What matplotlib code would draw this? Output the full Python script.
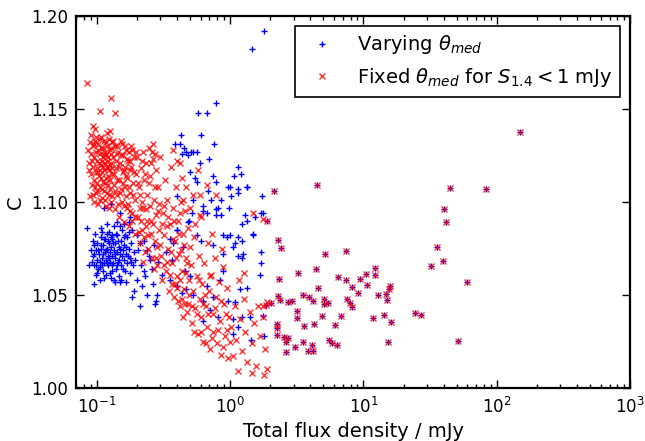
import numpy as np
import matplotlib
matplotlib.use("Agg")
import matplotlib.pyplot as plt

# ---------------------------------------------------------
# (flux density in mJy, correction factor C)

# sources bright enough that theta_med is the same in both runs
both_series = [
    (4.49, 1.1093), (2.13, 1.1061), (44.4, 1.1077), (83.4, 1.1072), (40.2, 1.0961),
    (41.9, 1.0894), (1.88, 1.0896), (2.30, 1.0794), (2.42, 1.0754), (35.5, 1.0756),
    (39.4, 1.0684), (32.3, 1.0656), (59.4, 1.0568), (5.18, 1.0722), (7.39, 1.0735),
    (4.41, 1.0638), (3.24, 1.0620), (2.31, 1.0588), (6.44, 1.0597), (7.39, 1.0579),
    (9.34, 1.0586), (10.4, 1.0613), (12.1, 1.0645), (12.2, 1.0606), (8.19, 1.0545),
    (10.6, 1.0554), (4.57, 1.0538), (9.12, 1.0509), (3.51, 1.0498), (3.93, 1.0488),
    (4.16, 1.0466), (2.28, 1.0496), (2.35, 1.0473), (2.01, 1.0455), (1.87, 1.0446),
    (2.74, 1.0462), (2.92, 1.0469), (5.09, 1.0477), (5.09, 1.0452), (5.42, 1.0459),
    (7.51, 1.0480), (7.95, 1.0457), (8.23, 1.0437), (12.9, 1.0498), (14.7, 1.0505),
    (14.9, 1.0475), (15.8, 1.0548), (15.6, 1.0530), (3.16, 1.0412), (3.20, 1.0378),
    (4.92, 1.0389), (6.81, 1.0389), (11.8, 1.0378), (14.2, 1.0391), (16.0, 1.0353),
    (24.5, 1.0402), (27.0, 1.0391), (3.59, 1.0333), (4.23, 1.0342), (6.15, 1.0337),
    (2.23, 1.0344), (2.23, 1.0321), (2.24, 1.0285), (2.52, 1.0276), (2.70, 1.0267),
    (2.64, 1.0246), (2.64, 1.0192), (3.07, 1.0219), (3.55, 1.0246), (4.09, 1.0231),
    (3.85, 1.0199), (4.21, 1.0201), (5.54, 1.0256), (5.80, 1.0242), (6.33, 1.0233),
    (15.3, 1.0246), (51.2, 1.0254), (150.0, 1.1376), (3.39, 1.1870),
]

# varying theta_med, sources below ~2 mJy
blue_only = [
    (1.78, 1.192), (1.47, 1.182),
    (0.787, 1.153), (0.571, 1.148), (0.667, 1.148), (0.601, 1.136), (0.76, 1.131),
    (0.426, 1.136), (0.387, 1.131), (0.42, 1.131), (0.45, 1.129), (0.47, 1.127),
    (0.506, 1.127), (0.53, 1.127), (0.56, 1.127), (0.434, 1.126), (0.486, 1.125),
    (0.693, 1.123), (0.594, 1.121), (1.155, 1.119), (0.50, 1.116), (0.545, 1.113),
    (0.747, 1.114), (1.07, 1.114), (1.20, 1.115), (0.56, 1.111), (0.79, 1.111),
    (0.966, 1.108), (1.34, 1.108), (1.15, 1.107), (1.155, 1.105), (0.68, 1.106),
    (1.02, 1.103), (1.73, 1.103), (0.86, 1.101), (0.714, 1.101), (0.398, 1.103),
    (0.63, 1.098), (0.81, 1.097), (0.98, 1.097), (0.79, 1.093), (1.29, 1.093),
    (1.53, 1.092), (1.71, 1.094), (0.53, 1.101),
    (0.515, 1.094), (0.63, 1.095), (0.85, 1.093), (1.22, 1.088), (1.48, 1.082),
    (1.71, 1.073), (1.69, 1.067), (1.67, 1.061), (0.486, 1.089), (0.398, 1.085),
    (0.56, 1.082), (0.61, 1.079), (0.89, 1.082), (0.995, 1.082), (1.15, 1.081),
    (1.08, 1.078), (1.22, 1.079), (0.747, 1.077), (0.89, 1.072), (1.15, 1.071),
    (1.22, 1.070), (0.446, 1.076), (0.375, 1.078), (0.365, 1.069), (0.459, 1.063),
    (0.50, 1.060), (0.434, 1.051), (0.53, 1.050), (0.63, 1.047), (0.747, 1.049),
    (1.18, 1.053), (1.33, 1.054), (1.08, 1.046), (0.966, 1.047), (1.40, 1.038),
    (1.22, 1.038), (1.05, 1.037), (1.15, 1.033), (1.05, 1.029), (1.44, 1.026),
    (0.63, 1.036), (0.705, 1.042), (0.81, 1.038), (0.89, 1.063), (0.84, 1.058),
    (0.667, 1.055), (1.76, 1.039), (1.81, 1.028),
    (0.085, 1.086), (0.107, 1.086), (0.095, 1.077), (0.090, 1.074), (0.087, 1.066),
    (0.101, 1.062), (0.096, 1.056), (0.12, 1.083), (0.13, 1.082), (0.15, 1.087),
    (0.159, 1.081), (0.127, 1.099), (0.113, 1.097), (0.15, 1.094), (0.178, 1.092),
    (0.173, 1.089), (0.184, 1.085), (0.20, 1.082), (0.212, 1.078), (0.238, 1.074),
    (0.251, 1.069), (0.225, 1.063), (0.20, 1.058), (0.189, 1.052), (0.15, 1.057),
    (0.134, 1.058), (0.282, 1.050), (0.275, 1.045), (0.355, 1.058), (0.398, 1.055),
    (0.47, 1.053), (0.355, 1.080), (0.398, 1.085), (0.49, 1.090), (0.667, 1.094),
    (0.79, 1.096), (0.94, 1.081), (1.05, 1.076), (1.25, 1.072), (1.33, 1.090),
    (1.48, 1.083), (1.76, 1.094), (0.995, 1.108), (1.33, 1.108),
    (0.093, 1.071), (0.096, 1.066), (0.098, 1.074), (0.100, 1.069), (0.101, 1.078),
    (0.103, 1.064), (0.104, 1.072), (0.106, 1.068), (0.107, 1.081), (0.108, 1.075),
    (0.110, 1.070), (0.111, 1.063), (0.112, 1.077), (0.113, 1.067), (0.115, 1.073),
    (0.116, 1.080), (0.117, 1.069), (0.118, 1.061), (0.119, 1.075), (0.121, 1.071),
    (0.122, 1.066), (0.123, 1.078), (0.124, 1.084), (0.125, 1.073), (0.126, 1.068),
    (0.128, 1.076), (0.129, 1.063), (0.130, 1.071), (0.131, 1.080), (0.133, 1.067),
    (0.134, 1.074), (0.135, 1.087), (0.137, 1.070), (0.138, 1.078), (0.139, 1.064),
    (0.141, 1.073), (0.142, 1.082), (0.144, 1.068), (0.146, 1.076), (0.147, 1.060),
    (0.149, 1.072), (0.151, 1.079), (0.153, 1.066), (0.155, 1.085), (0.157, 1.074),
    (0.159, 1.069), (0.161, 1.077), (0.163, 1.063), (0.165, 1.072), (0.168, 1.081),
    (0.170, 1.067), (0.173, 1.075), (0.176, 1.070), (0.179, 1.062), (0.182, 1.078),
    (0.186, 1.066), (0.190, 1.073), (0.195, 1.069), (0.099, 1.061), (0.105, 1.058),
    (0.109, 1.084), (0.114, 1.059), (0.120, 1.088), (0.127, 1.059), (0.136, 1.057),
    (0.143, 1.089), (0.152, 1.058), (0.160, 1.088), (0.167, 1.057), (0.094, 1.079),
    (0.097, 1.083),
    (0.092, 1.068), (0.095, 1.072), (0.099, 1.066), (0.102, 1.074), (0.105, 1.065),
    (0.107, 1.077), (0.110, 1.066), (0.112, 1.072), (0.114, 1.080), (0.117, 1.074),
    (0.119, 1.067), (0.121, 1.079), (0.124, 1.070), (0.126, 1.062), (0.128, 1.081),
    (0.131, 1.066), (0.133, 1.078), (0.136, 1.072), (0.139, 1.083), (0.141, 1.066),
    (0.144, 1.079), (0.148, 1.069), (0.150, 1.075), (0.154, 1.071), (0.158, 1.064),
    (0.162, 1.082), (0.166, 1.076), (0.171, 1.071), (0.175, 1.084), (0.180, 1.068),
    (0.205, 1.074), (0.215, 1.066), (0.225, 1.079), (0.23, 1.060), (0.245, 1.071),
    (0.26, 1.064), (0.27, 1.077), (0.29, 1.068), (0.31, 1.061), (0.33, 1.073),
    (0.22, 1.055), (0.24, 1.050), (0.265, 1.056), (0.28, 1.047), (0.21, 1.044),
    (0.185, 1.049),
]

# fixed theta_med, sources below ~2 mJy
red_only = [
    (0.0852, 1.164), (0.127, 1.156), (0.106, 1.149), (0.137, 1.148), (0.094, 1.141),
    (0.0975, 1.139), (0.125, 1.138), (0.120, 1.137), (0.097, 1.108),
    (0.086, 1.128), (0.088, 1.121), (0.089, 1.132), (0.090, 1.115), (0.091, 1.126),
    (0.092, 1.109), (0.093, 1.130), (0.094, 1.119), (0.095, 1.124), (0.096, 1.112),
    (0.097, 1.133), (0.098, 1.105), (0.099, 1.127), (0.100, 1.118), (0.101, 1.122),
    (0.102, 1.099), (0.103, 1.131), (0.104, 1.114), (0.105, 1.126), (0.106, 1.108),
    (0.107, 1.120), (0.108, 1.129), (0.109, 1.102), (0.110, 1.116), (0.111, 1.124),
    (0.112, 1.111), (0.113, 1.133), (0.114, 1.106), (0.115, 1.121), (0.116, 1.127),
    (0.117, 1.098), (0.118, 1.113), (0.119, 1.119), (0.120, 1.130), (0.121, 1.109),
    (0.122, 1.124), (0.123, 1.104), (0.124, 1.117), (0.125, 1.128), (0.126, 1.112),
    (0.127, 1.121), (0.128, 1.100), (0.129, 1.132), (0.130, 1.115), (0.094, 1.104),
    (0.100, 1.110), (0.106, 1.134), (0.112, 1.119), (0.118, 1.125), (0.124, 1.097),
    (0.091, 1.136), (0.103, 1.116), (0.109, 1.122), (0.115, 1.101), (0.121, 1.118),
    (0.127, 1.126),
    (0.087, 1.117), (0.089, 1.103), (0.092, 1.122), (0.095, 1.131), (0.096, 1.100),
    (0.098, 1.116), (0.099, 1.135), (0.101, 1.106), (0.102, 1.128), (0.104, 1.121),
    (0.105, 1.101), (0.107, 1.113), (0.108, 1.135), (0.110, 1.107), (0.111, 1.129),
    (0.113, 1.117), (0.114, 1.125), (0.116, 1.110), (0.117, 1.132), (0.119, 1.105),
    (0.120, 1.122), (0.122, 1.114), (0.123, 1.134), (0.125, 1.107), (0.126, 1.120),
    (0.128, 1.129), (0.130, 1.103), (0.131, 1.118), (0.133, 1.133), (0.136, 1.106),
    (0.139, 1.122), (0.142, 1.130), (0.143, 1.112), (0.147, 1.119), (0.149, 1.105),
    (0.153, 1.125), (0.157, 1.110), (0.159, 1.098), (0.163, 1.130), (0.167, 1.114),
    (0.169, 1.123), (0.173, 1.108), (0.177, 1.095), (0.179, 1.122), (0.184, 1.128),
    (0.188, 1.104), (0.191, 1.116), (0.194, 1.092), (0.197, 1.127),
    (0.132, 1.124), (0.134, 1.109), (0.136, 1.130), (0.138, 1.096), (0.140, 1.118),
    (0.142, 1.104), (0.144, 1.127), (0.146, 1.112), (0.148, 1.092), (0.150, 1.121),
    (0.152, 1.133), (0.154, 1.100), (0.156, 1.116), (0.158, 1.125), (0.160, 1.089),
    (0.162, 1.108), (0.164, 1.119), (0.166, 1.128), (0.168, 1.097), (0.170, 1.113),
    (0.172, 1.122), (0.174, 1.087), (0.176, 1.105), (0.178, 1.117), (0.180, 1.130),
    (0.183, 1.094), (0.186, 1.110), (0.189, 1.124), (0.192, 1.083), (0.195, 1.101),
    (0.198, 1.115), (0.135, 1.115), (0.145, 1.099), (0.155, 1.131), (0.165, 1.103),
    (0.175, 1.127), (0.185, 1.090), (0.141, 1.126), (0.151, 1.107), (0.161, 1.117),
    (0.171, 1.099), (0.181, 1.119),
    (0.202, 1.124), (0.205, 1.092), (0.208, 1.108), (0.211, 1.078), (0.214, 1.118),
    (0.217, 1.100), (0.220, 1.085), (0.223, 1.127), (0.226, 1.112), (0.229, 1.073),
    (0.232, 1.096), (0.236, 1.121), (0.240, 1.104), (0.244, 1.082), (0.248, 1.129),
    (0.252, 1.114), (0.256, 1.090), (0.260, 1.070), (0.264, 1.123), (0.268, 1.101),
    (0.272, 1.079), (0.276, 1.117), (0.280, 1.093), (0.285, 1.066), (0.290, 1.108),
    (0.295, 1.085), (0.300, 1.124), (0.210, 1.097), (0.222, 1.068), (0.234, 1.087),
    (0.246, 1.110), (0.258, 1.127), (0.270, 1.064), (0.282, 1.076), (0.294, 1.099),
    (0.255, 1.121), (0.262, 1.131), (0.275, 1.126),
    (0.203, 1.110), (0.207, 1.084), (0.212, 1.104), (0.216, 1.090), (0.219, 1.122),
    (0.224, 1.097), (0.228, 1.081), (0.231, 1.115), (0.238, 1.090), (0.242, 1.075),
    (0.250, 1.098), (0.254, 1.083), (0.266, 1.088), (0.274, 1.108), (0.278, 1.070),
    (0.288, 1.095), (0.298, 1.077),
    (0.305, 1.071), (0.310, 1.058), (0.315, 1.094), (0.320, 1.082), (0.325, 1.112),
    (0.330, 1.063), (0.336, 1.101), (0.342, 1.075), (0.348, 1.052), (0.354, 1.088),
    (0.360, 1.119), (0.366, 1.067), (0.372, 1.097), (0.378, 1.049), (0.384, 1.079),
    (0.390, 1.108), (0.397, 1.060), (0.404, 1.090), (0.411, 1.072), (0.418, 1.044),
    (0.425, 1.100), (0.432, 1.063), (0.440, 1.083), (0.448, 1.053), (0.456, 1.095),
    (0.464, 1.070), (0.472, 1.041), (0.480, 1.086), (0.490, 1.058), (0.500, 1.076),
    (0.318, 1.066), (0.334, 1.087), (0.352, 1.061), (0.370, 1.080), (0.388, 1.056),
    (0.408, 1.047), (0.428, 1.074), (0.446, 1.038), (0.466, 1.062), (0.486, 1.045),
    (0.375, 1.128), (0.398, 1.122), (0.420, 1.121), (0.434, 1.113), (0.446, 1.101),
    (0.470, 1.108),
    (0.308, 1.088), (0.322, 1.098), (0.338, 1.068), (0.345, 1.092), (0.358, 1.073),
    (0.364, 1.056), (0.380, 1.090), (0.394, 1.070), (0.402, 1.054), (0.414, 1.083),
    (0.422, 1.058), (0.438, 1.048), (0.452, 1.077), (0.460, 1.045), (0.476, 1.067),
    (0.495, 1.050),
    (0.51, 1.066), (0.52, 1.035), (0.53, 1.052), (0.54, 1.081), (0.55, 1.043),
    (0.56, 1.060), (0.57, 1.029), (0.58, 1.071), (0.59, 1.048), (0.60, 1.038),
    (0.61, 1.092), (0.62, 1.056), (0.63, 1.025), (0.64, 1.067), (0.66, 1.044),
    (0.67, 1.033), (0.68, 1.078), (0.69, 1.052), (0.71, 1.021), (0.72, 1.061),
    (0.74, 1.040), (0.75, 1.030), (0.77, 1.070), (0.78, 1.049), (0.80, 1.024),
    (0.82, 1.057), (0.84, 1.036), (0.86, 1.018), (0.88, 1.065), (0.90, 1.045),
    (0.92, 1.028), (0.94, 1.054), (0.96, 1.016), (0.98, 1.038), (0.57, 1.117),
    (0.78, 1.104), (0.594, 1.104), (0.667, 1.109), (0.524, 1.104), (0.594, 1.093),
    (0.50, 1.097), (0.42, 1.094), (0.55, 1.088), (0.65, 1.050), (0.73, 1.083),
    (0.87, 1.075), (0.93, 1.040),
    (0.515, 1.044), (0.535, 1.030), (0.565, 1.040), (0.585, 1.058), (0.605, 1.030),
    (0.625, 1.045), (0.655, 1.024), (0.685, 1.040), (0.705, 1.060), (0.735, 1.027),
    (0.765, 1.043), (0.81, 1.031), (0.85, 1.047), (0.89, 1.022), (0.95, 1.031),
    (0.99, 1.025),
    (1.02, 1.033), (1.05, 1.017), (1.08, 1.044), (1.11, 1.026), (1.14, 1.009),
    (1.18, 1.037), (1.22, 1.020), (1.26, 1.048), (1.30, 1.030), (1.34, 1.014),
    (1.40, 1.041), (1.45, 1.024), (1.50, 1.035), (1.56, 1.012), (1.62, 1.044),
    (1.68, 1.028), (1.75, 1.038), (1.82, 1.021), (1.88, 1.010), (1.48, 1.094),
    (1.16, 1.058), (1.28, 1.062), (1.90, 1.046), (1.45, 1.008), (1.79, 1.007),
    (1.77, 1.091), (1.76, 1.044),
]

blue = np.array(blue_only + both_series)
red = np.array(red_only + both_series)

# ---------------------------------------------------------

plt.rcParams["xtick.direction"] = "in"
plt.rcParams["ytick.direction"] = "in"
plt.rcParams["xtick.top"] = True
plt.rcParams["ytick.right"] = True

fig = plt.figure(figsize=(6.45, 4.41), dpi=100)
ax = fig.add_subplot(111)
fig.subplots_adjust(left=0.118, right=0.977, bottom=0.12, top=0.964)

ax.semilogx(blue[:, 0], blue[:, 1], "b+", ms=4.5, mew=1.0,
            label=r"Varying $\theta_{med}$")
ax.semilogx(red[:, 0], red[:, 1], "rx", ms=4.5, mew=1.0, alpha=0.8,
            label=r"Fixed $\theta_{med}$ for $S_{1.4}<1$ mJy")

ax.set_xlim(0.07, 1000)
ax.set_ylim(1.0, 1.2)
ax.set_yticks([1.00, 1.05, 1.10, 1.15, 1.20])
ax.yaxis.set_major_formatter(matplotlib.ticker.FormatStrFormatter("%.2f"))

ax.set_xlabel("Total flux density / mJy", fontsize=14)
ax.set_ylabel("C", fontsize=14)
ax.tick_params(which="major", length=6, width=1, labelsize=12, pad=6)
ax.tick_params(which="minor", length=3, width=1)
for side in ax.spines.values():
    side.set_linewidth(1.6)

leg = ax.legend(loc="upper right", numpoints=1, fontsize=14, fancybox=False,
                framealpha=1, edgecolor="black")
leg.get_frame().set_linewidth(1.2)

fig.savefig("out.png", dpi=100)
